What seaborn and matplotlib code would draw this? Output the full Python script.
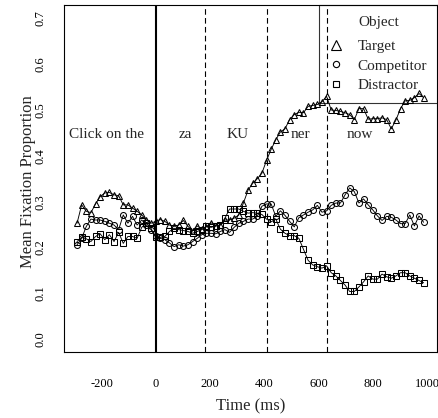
import matplotlib
matplotlib.use("Agg")
import matplotlib.pyplot as plt
import pandas as pd
import seaborn as sns
from matplotlib.lines import Line2D

# ---------------- data ----------------
time_ms = [-290, -273, -256, -239, -222, -205, -188, -171, -154, -137,
           -120, -103, -86, -69, -52, -35, -18, -1, 16, 33,
           50, 67, 84, 101, 118, 135, 152, 169, 186, 203,
           220, 237, 254, 271, 288, 305, 322, 339, 356, 373,
           390, 407, 424, 441, 458, 475, 492, 509, 526, 543,
           560, 577, 594, 611, 628, 645, 662, 679, 696, 713,
           730, 747, 764, 781, 798, 815, 832, 849, 866, 883,
           900, 917, 934, 951, 968, 985]

target = [0.253, 0.293, 0.279, 0.276, 0.295, 0.311, 0.319, 0.320, 0.315, 0.313,
          0.293, 0.293, 0.286, 0.279, 0.271, 0.260, 0.253, 0.257, 0.261, 0.257,
          0.249, 0.246, 0.249, 0.259, 0.246, 0.237, 0.247, 0.240, 0.245, 0.254,
          0.247, 0.249, 0.260, 0.260, 0.264, 0.271, 0.297, 0.325, 0.340, 0.350,
          0.362, 0.390, 0.414, 0.435, 0.452, 0.459, 0.479, 0.490, 0.495, 0.494,
          0.508, 0.510, 0.512, 0.518, 0.530, 0.500, 0.499, 0.497, 0.494, 0.490,
          0.479, 0.503, 0.503, 0.480, 0.481, 0.481, 0.483, 0.479, 0.459, 0.478,
          0.503, 0.520, 0.521, 0.527, 0.536, 0.527]

competitor = [0.206, 0.220, 0.246, 0.262, 0.260, 0.260, 0.257, 0.253, 0.249, 0.239,
              0.271, 0.253, 0.268, 0.249, 0.260, 0.249, 0.239, 0.224, 0.220, 0.217,
              0.210, 0.202, 0.206, 0.203, 0.206, 0.213, 0.220, 0.228, 0.231, 0.231,
              0.230, 0.235, 0.239, 0.233, 0.244, 0.253, 0.257, 0.262, 0.262, 0.268,
              0.290, 0.295, 0.295, 0.268, 0.280, 0.270, 0.257, 0.245, 0.265, 0.271,
              0.277, 0.282, 0.292, 0.277, 0.280, 0.292, 0.297, 0.297, 0.315, 0.330,
              0.322, 0.297, 0.306, 0.293, 0.282, 0.269, 0.259, 0.268, 0.266, 0.260,
              0.252, 0.252, 0.271, 0.247, 0.269, 0.255]

distractor = [0.213, 0.222, 0.219, 0.213, 0.224, 0.230, 0.217, 0.228, 0.213, 0.233,
              0.209, 0.224, 0.224, 0.220, 0.244, 0.253, 0.242, 0.222, 0.222, 0.224,
              0.235, 0.242, 0.239, 0.237, 0.235, 0.231, 0.235, 0.239, 0.246, 0.244,
              0.247, 0.249, 0.264, 0.284, 0.284, 0.284, 0.279, 0.275, 0.276, 0.275,
              0.272, 0.262, 0.256, 0.262, 0.240, 0.231, 0.226, 0.226, 0.220, 0.196,
              0.172, 0.162, 0.158, 0.155, 0.160, 0.145, 0.138, 0.128, 0.118, 0.104,
              0.104, 0.114, 0.125, 0.138, 0.131, 0.131, 0.142, 0.136, 0.133, 0.138,
              0.145, 0.145, 0.138, 0.133, 0.128, 0.123]

objects = ["Target", "Competitor", "Distractor"]
region_labels = ["Click on the", "za", "KU", "ner", "now"]
region_label_x = [-181, 108, 299, 531, 751]
region_label_y = 0.446
onset_ms = 0
boundaries_ms = [180, 408, 630]
x_ticks = [-200, 0, 200, 400, 600, 800, 1000]
y_ticks = [0.0, 0.1, 0.2, 0.3, 0.4, 0.5, 0.6, 0.7]

# ---------------- style ----------------
sns.set_style("white")
plt.rcParams["font.family"] = ["Liberation Serif", "DejaVu Serif"]

df = pd.concat([
    pd.DataFrame({"Time": time_ms, "Proportion": vals, "Object": name})
    for name, vals in zip(objects, [target, competitor, distractor])
], ignore_index=True)

W, H = 439, 418
fig = plt.figure(figsize=(W / 100, H / 100), dpi=100)
left, right, top, bottom = 64, 437.5, 5.5, 352
ax = fig.add_axes([left / W, (H - bottom) / H, (right - left) / W, (bottom - top) / H])

marker_map = {"Target": "^", "Competitor": "o", "Distractor": "s"}
size_map = {"Target": 5.0, "Competitor": 4.3, "Distractor": 3.9}

for name in objects:
    sub = df[df["Object"] == name]
    sns.lineplot(data=sub, x="Time", y="Proportion", ax=ax, color="black",
                 marker=marker_map[name], markersize=size_map[name],
                 markerfacecolor="none", markeredgecolor="black",
                 markeredgewidth=0.75, linewidth=0.65, errorbar=None,
                 legend=False, zorder=3)

ax.axvline(onset_ms, color="black", linewidth=1.5, zorder=2)
for b in boundaries_ms:
    ax.axvline(b, color="black", linewidth=0.8, dashes=(5, 3), zorder=2)

for lab, xv in zip(region_labels, region_label_x):
    ax.text(xv, region_label_y, lab, ha="center", va="center", fontsize=11, zorder=1)

ax.set_xlim(-338, 1036)
ax.set_ylim(-0.028, 0.728)
ax.set_xticks(x_ticks)
ax.set_xticklabels([str(v) for v in x_ticks], fontsize=9)
ax.set_yticks(y_ticks)
ax.set_yticklabels([f"{v:.1f}" for v in y_ticks], fontsize=9, rotation=90, va="center")
ax.tick_params(axis="x", direction="out", length=7.5, width=0.75, pad=11.5, colors="black")
ax.tick_params(axis="y", direction="out", length=8, width=0.75, pad=4.5, colors="black")

for sp in ax.spines.values():
    sp.set_color("black")
    sp.set_linewidth(0.8)
    sp.set_visible(True)

ax.set_xlabel("Time (ms)", fontsize=12)
ax.xaxis.label.set_va("center")
ax.xaxis.set_label_coords(0.5, -(406 - bottom) / (bottom - top))
ax.set_ylabel("Mean Fixation Proportion", fontsize=12)
ax.yaxis.label.set_va("center")
ax.yaxis.set_label_coords((28 - left) / (right - left), (bottom - 182) / (bottom - top))

handles = [Line2D([], [], linestyle="none", marker=marker_map[n], markersize=ms,
                  markerfacecolor="none", markeredgecolor="black", markeredgewidth=0.8)
           for n, ms in zip(objects, [6.5, 4.5, 4.5])]
leg = ax.legend(handles, objects, title="Object", loc="upper right",
                bbox_to_anchor=(1, 1), borderaxespad=0, frameon=True, fancybox=False,
                fontsize=11, title_fontsize=11, handlelength=0.8, handletextpad=1.0,
                borderpad=0.7, labelspacing=0.37)
fr = leg.get_frame()
fr.set_facecolor("none")
fr.set_edgecolor("black")
fr.set_linewidth(0.8)
leg._legend_box.sep = 7.5

fig.savefig("out.png", dpi=100)
